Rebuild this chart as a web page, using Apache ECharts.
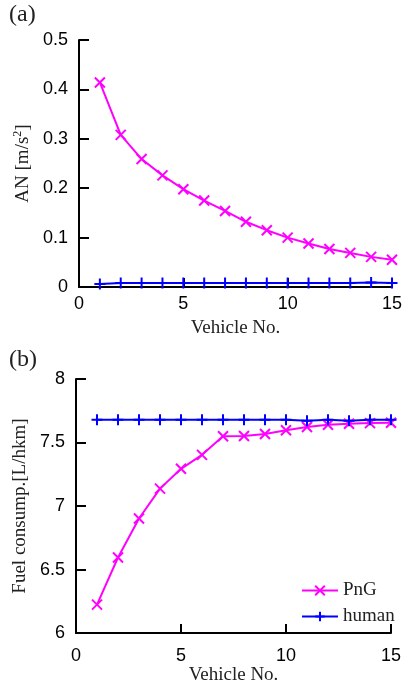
<!DOCTYPE html>
<html>
<head>
<meta charset="utf-8">
<script src="https://cdn.jsdelivr.net/npm/echarts@6/dist/echarts.min.js"></script>
<style>html,body{margin:0;padding:0;background:#fff;}#c{width:405px;height:686px;}</style>
</head>
<body>
<div id="c"></div>
<script>
const vehicles = [1,2,3,4,5,6,7,8,9,10,11,12,13,14,15];
const anPnG   = [0.414,0.308,0.259,0.226,0.198,0.175,0.154,0.132,0.115,0.100,0.088,0.077,0.069,0.061,0.055];
const anHuman = [0.006,0.008,0.008,0.008,0.008,0.008,0.008,0.008,0.008,0.008,0.008,0.008,0.008,0.009,0.008];
const fuelPnG   = [6.224,6.595,6.902,7.137,7.293,7.403,7.549,7.551,7.567,7.596,7.622,7.640,7.648,7.653,7.656];
const fuelHuman = [7.680,7.680,7.680,7.680,7.680,7.680,7.680,7.680,7.680,7.680,7.672,7.680,7.672,7.680,7.680];
const xTicks = [0,5,10,15];
const anTicks = [0,0.1,0.2,0.3,0.4,0.5];
const fuelTicks = [6,6.5,7,7.5,8];

const pair = (ys) => vehicles.map((v,i)=>[v, ys[i]]);
const SANS = 'Liberation Sans', SERIF = 'Liberation Serif';
const MAG = '#ff00ff', BLUE = '#0000ff';
const crossSym = 'path://M0,0L10,10M0,10L10,0';
const plusSym = 'path://M5,0L5,10M0,5L10,5';

function xAx(gi, margin, gap){
  return {
    type:'value', gridIndex:gi, min:0, max:15, interval:5,
    axisLine:{show:true, onZero:false, lineStyle:{color:'#000', width:2}},
    axisTick:{show:true, inside:true, length:9, lineStyle:{color:'#000', width:2}},
    axisLabel:{color:'#000', fontFamily:SANS, fontSize:18, margin:margin},
    splitLine:{show:false},
    name:'Vehicle No.', nameLocation:'middle', nameGap:gap,
    nameTextStyle:{color:'#222', fontFamily:SERIF, fontSize:19}
  };
}
function yAx(gi, min, max, interval, name, gap, rich){
  return {
    type:'value', gridIndex:gi, min:min, max:max, interval:interval,
    axisLine:{show:true, onZero:false, lineStyle:{color:'#000', width:2}},
    axisTick:{show:true, inside:true, length:10, lineStyle:{color:'#000', width:2}},
    axisLabel:{color:'#000', fontFamily:SANS, fontSize:18, margin:11},
    splitLine:{show:false},
    name:name, nameLocation:'middle', nameGap:gap, nameRotate:90,
    nameTextStyle:Object.assign({color:'#222', fontFamily:SERIF, fontSize:19}, rich?{rich:rich}:{})
  };
}
function ser(name, gi, data, color, sym, size){
  return {
    name:name, type:'line', xAxisIndex:gi, yAxisIndex:gi, data:data,
    symbol:sym, symbolSize:size, showSymbol:true,
    lineStyle:{color:color, width:2},
    itemStyle:{color:color, borderColor:color, borderWidth:2},
    animation:false
  };
}

const chart = echarts.init(document.getElementById('c'), null, {renderer:'canvas'});
chart.setOption({
  backgroundColor:'#fff',
  animation:false,
  grid:[
    {left:79, right:11, top:40, bottom:399},
    {left:76, right:14, top:379, bottom:52}
  ],
  xAxis:[ xAx(0, 8, 32), xAx(1, 14, 31) ],
  yAxis:[
    yAx(0, 0, 0.5, 0.1, '{a|AN [m/s}{s|2}{a|]}', 45, {
      a:{fontFamily:SERIF, fontSize:19, color:'#222', lineHeight:22},
      s:{fontFamily:SERIF, fontSize:12, color:'#222', verticalAlign:'top', lineHeight:18}
    }),
    yAx(1, 6, 8, 0.5, 'Fuel consump.[L/hkm]', 44)
  ],
  legend:{
    show:true, orient:'vertical', left:296, top:576, itemWidth:36, itemHeight:12, itemGap:7,
    textStyle:{color:'#222', fontFamily:SERIF, fontSize:19},
    data:[{name:'PnG'},{name:'human'}]
  },
  graphic:[
    {type:'text', left:9, top:3, style:{text:'(a)', font:'24px "Liberation Serif"', fill:'#222'}},
    {type:'text', left:9, top:348, style:{text:'(b)', font:'24px "Liberation Serif"', fill:'#222'}}
  ],
  series:[
    ser('PnG', 0, pair(anPnG), MAG, crossSym, 10),
    ser('human', 0, pair(anHuman), BLUE, plusSym, 11),
    ser('PnG', 1, pair(fuelPnG), MAG, crossSym, 10),
    ser('human', 1, pair(fuelHuman), BLUE, plusSym, 11)
  ]
});
</script>
</body>
</html>
